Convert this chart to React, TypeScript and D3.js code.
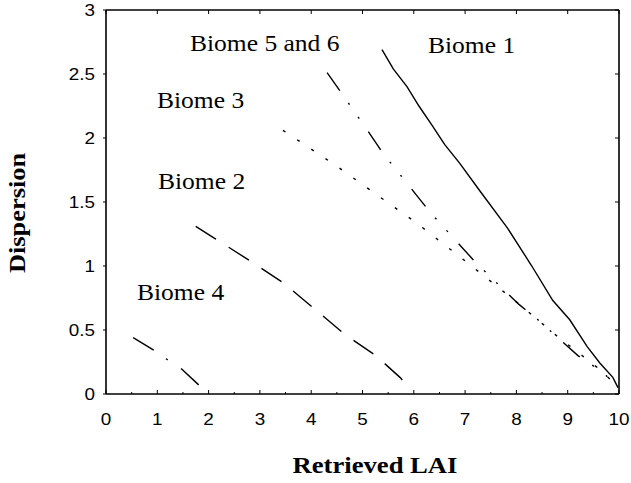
import React from "react";
import * as d3 from "d3";

const W = 631;
const H = 483;

const xTicks = [0, 1, 2, 3, 4, 5, 6, 7, 8, 9, 10];
const yTicks = [0, 0.5, 1, 1.5, 2, 2.5, 3];
const xTickLabels = ["0", "1", "2", "3", "4", "5", "6", "7", "8", "9", "10"];
const yTickLabels = ["0", "0.5", "1", "1.5", "2", "2.5", "3"];

const biome1X = [5.38, 5.6, 5.87, 6.1, 6.37, 6.6, 6.9, 7.3, 7.82, 8.3, 8.71, 9.04, 9.38, 9.63, 9.88, 9.98];
const biome1Y = [2.69, 2.54, 2.4, 2.25, 2.09, 1.95, 1.8, 1.58, 1.3, 1.0, 0.73, 0.58, 0.37, 0.24, 0.13, 0.05];

const biome56X = [4.31, 4.54, 5.13, 5.4, 6.04, 6.34, 7.2, 8.05, 8.42, 9.2, 9.61, 9.88];
const biome56Y = [2.51, 2.38, 2.04, 1.88, 1.56, 1.41, 1.03, 0.7, 0.58, 0.3, 0.19, 0.1];

const biome3X = [3.45, 4.5, 5.3, 6.04, 7.0, 8.0, 8.8, 9.6, 9.95];
const biome3Y = [2.06, 1.78, 1.55, 1.34, 1.04, 0.72, 0.45, 0.2, 0.07];

const biome2X = [1.75, 2.14, 2.81, 3.45, 4.05, 4.64, 5.26, 5.73, 5.96];
const biome2Y = [1.31, 1.21, 1.04, 0.87, 0.67, 0.47, 0.3, 0.13, 0.03];

const biome4X = [0.53, 0.94, 1.19, 1.46, 1.81, 1.98];
const biome4Y = [0.44, 0.34, 0.27, 0.2, 0.07, 0.0];

const labels = ["Biome 5 and 6", "Biome 1", "Biome 3", "Biome 2", "Biome 4"];

const SX = 1.11;
const SANS = "'Liberation Sans', Arial, Helvetica, sans-serif";
const SERIF = "'Liberation Serif', 'Times New Roman', Times, serif";

export default function App() {
  const x = d3.scaleLinear().domain([0, 10]).range([106, 619]);
  const y = d3.scaleLinear().domain([0, 3]).range([394, 10]);
  const line = d3
    .line<[number, number]>()
    .x((d) => x(d[0]))
    .y((d) => y(d[1]))
    .curve(d3.curveLinear);

  const zip = (a: number[], b: number[]) => a.map((v, i) => [v, b[i]] as [number, number]);

  const series = [
    { d: zip(biome1X, biome1Y), dash: "none" },
    { d: zip(biome56X, biome56Y), dash: "22,15,2,15,2,16" },
    { d: zip(biome3X, biome3Y), dash: "3,14" },
    { d: zip(biome2X, biome2Y), dash: "24,15" },
    { d: zip(biome4X, biome4Y), dash: "24,15,2,16" },
  ];

  const xMinor = d3.range(0.5, 10, 1);
  const [x0, x1] = x.range();
  const [y0, y1] = y.range();

  return (
    <svg width={W} height={H} style={{ position: "absolute", left: 0, top: 0, background: "#fff" }}>
      <rect x={0} y={0} width={W} height={H} fill="#fff" />
      <g stroke="#000" strokeWidth={1.6} fill="none">
        <line x1={x0} x2={x1} y1={y0} y2={y0} />
        <line x1={x0} x2={x0} y1={y0} y2={y1} />
        <line x1={x0} x2={x1} y1={y1} y2={y1} />
        <line x1={x1} x2={x1} y1={y0} y2={y1} />
      </g>
      <g stroke="#000" strokeWidth={1}>
        {xTicks.map((t) => (
          <g key={"xt" + t}>
            <line x1={x(t)} x2={x(t)} y1={y0} y2={y0 - 4} />
            <line x1={x(t)} x2={x(t)} y1={y1} y2={y1 + 4} />
          </g>
        ))}
        {xMinor.map((t) => (
          <line key={"xm" + t} x1={x(t)} x2={x(t)} y1={y0} y2={y0 - 2} />
        ))}
        {yTicks.map((t) => (
          <g key={"yt" + t}>
            <line x1={x0} x2={x0 - 3} y1={y(t)} y2={y(t)} />
            <line x1={x1} x2={x1 - 4} y1={y(t)} y2={y(t)} />
          </g>
        ))}
      </g>
      <g style={{ fontFamily: SANS, fontSize: "17px" }} fill="#000">
        {xTicks.map((t, i) => (
          <text key={"xl" + t} transform={`translate(${x(t)},425) scale(${SX},1)`} textAnchor="middle">
            {xTickLabels[i]}
          </text>
        ))}
        {yTicks.map((t, i) => (
          <text key={"yl" + t} transform={`translate(95,${y(t) + 6}) scale(${SX},1)`} textAnchor="end">
            {yTickLabels[i]}
          </text>
        ))}
      </g>
      <g fill="none" stroke="#000" strokeWidth={1.4}>
        {series.map((s, i) => (
          <path key={"s" + i} d={line(s.d) || ""} strokeDasharray={s.dash} />
        ))}
      </g>
      <g style={{ fontFamily: SERIF, fontSize: "23px" }} fill="#000">
        {labels.map((l, i) => (
          <text key={l} transform={`translate(${[190, 428, 157, 158, 137][i]},${[51, 53, 108, 189, 300][i]}) scale(${SX},1)`}>
            {l}
          </text>
        ))}
      </g>
      <text
        transform={`translate(375,473) scale(${SX},1)`}
        textAnchor="middle"
        style={{ fontFamily: SERIF, fontWeight: "bold", fontSize: "24px" }}
      >
        Retrieved LAI
      </text>
      <text
        transform={`translate(25,213) rotate(-90) scale(1.1,1)`}
        textAnchor="middle"
        style={{ fontFamily: SERIF, fontWeight: "bold", fontSize: "24px" }}
      >
        Dispersion
      </text>
    </svg>
  );
}
